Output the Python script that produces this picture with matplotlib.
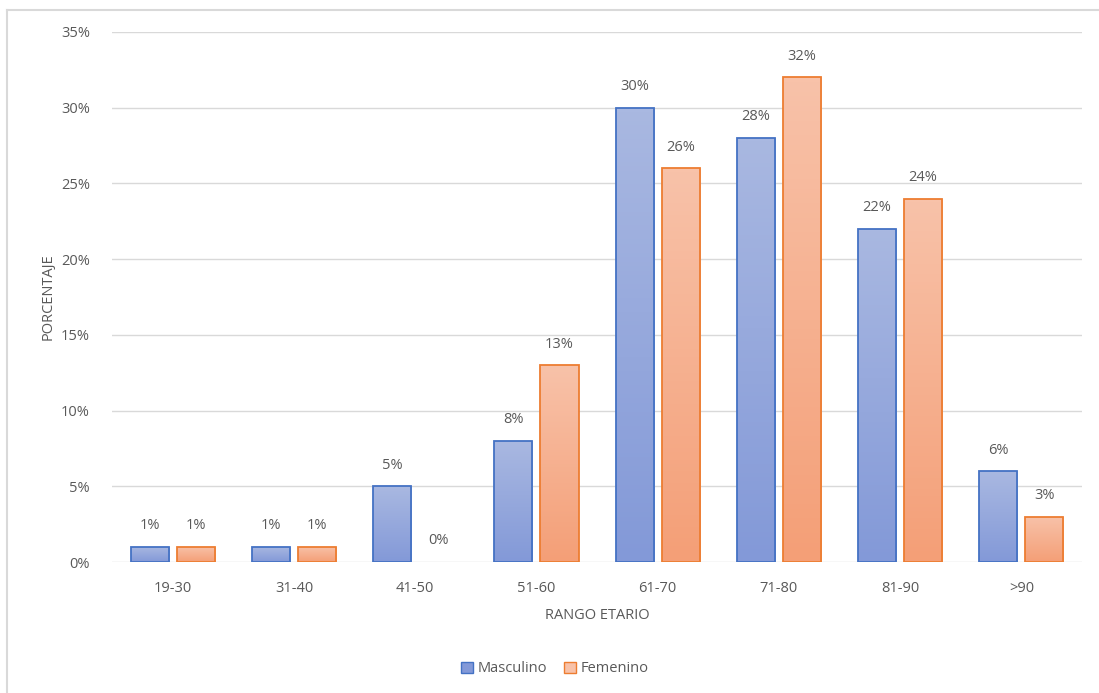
import matplotlib.pyplot as plt
import matplotlib.colors as mcolors
import numpy as np
from matplotlib.lines import Line2D
from matplotlib.patches import Patch

plt.rcParams['font.family'] = ['Open Sans', 'DejaVu Sans']

categorias = ["19-30", "31-40", "41-50", "51-60", "61-70", "71-80", "81-90", ">90"]
masculino = [1, 1, 5, 8, 30, 28, 22, 6]
femenino = [1, 1, 0, 13, 26, 32, 24, 3]

gris = "#595959"
azul_borde = "#4472C4"
naranja_borde = "#ED7D31"
azul_grad = ["#A9B8E1", "#8399D8"]
naranja_grad = ["#F8C2A9", "#F49F77"]
fs = 10.5

fig = plt.figure(figsize=(10.99, 6.93), dpi=100)
ax = fig.add_axes([0.102, 0.189, 0.8825, 0.7649])

x = np.arange(len(categorias))
w = 0.315
off = 0.19

def barras(vals, pos, borde, grad):
    lw = [1.3 if v > 0 else 0 for v in vals]
    bars = ax.bar(pos, vals, w, facecolor="none", edgecolor=borde, linewidth=lw, zorder=3)
    cmap = mcolors.LinearSegmentedColormap.from_list("g", [grad[1], grad[0]])
    for b, v in zip(bars, vals):
        xc = b.get_x() + b.get_width() / 2
        ax.text(xc, v + 0.9, f"{v}%", ha="center", va="bottom", color=gris, fontsize=fs)
        if v <= 0:
            continue
        x0 = b.get_x()
        im = ax.imshow(np.linspace(0, 1, 100).reshape(-1, 1), cmap=cmap, origin="lower",
                       extent=(x0, x0 + b.get_width(), 0, v), aspect="auto", zorder=2)
        im.set_clip_path(b)
    return bars

barras(masculino, x - off, azul_borde, azul_grad)
barras(femenino, x + off, naranja_borde, naranja_grad)

ax.set_xlim(-0.5, len(categorias) - 0.5)
ax.set_ylim(0, 35)
ax.set_yticks(np.arange(0, 36, 5))
ax.set_yticklabels([f"{t}%" for t in range(0, 36, 5)])
ax.set_xticks(x)
ax.set_xticklabels(categorias)
ax.tick_params(length=0, colors=gris, labelsize=fs)
ax.tick_params(axis="y", pad=16)
ax.tick_params(axis="x", pad=14)
ax.grid(axis="y", color="#D9D9D9", linewidth=1, zorder=0)
ax.set_axisbelow(True)
for s in ax.spines.values():
    s.set_visible(False)

ax.set_ylabel("PORCENTAJE", color=gris, fontsize=fs, labelpad=4)
ax.set_xlabel("RANGO ETARIO", color=gris, fontsize=fs, labelpad=8)

handles = [Patch(facecolor=azul_grad[1], edgecolor=azul_borde, label="Masculino"),
           Patch(facecolor=naranja_grad[0], edgecolor=naranja_borde, label="Femenino")]
fig.legend(handles=handles, loc="center", bbox_to_anchor=(0.505, 0.035), ncol=2, frameon=False,
           fontsize=fs, labelcolor=gris, handlelength=0.8, handleheight=0.8, handletextpad=0.3,
           columnspacing=1.2)

fig.add_artist(Line2D([0.006, 0.006], [0, 0.986], color="#D9D9D9", linewidth=1.5,
                      transform=fig.transFigure))
fig.add_artist(Line2D([0.006, 1.0], [0.986, 0.986], color="#D9D9D9", linewidth=1.5,
                      transform=fig.transFigure))

fig.savefig("out.png", dpi=100)
